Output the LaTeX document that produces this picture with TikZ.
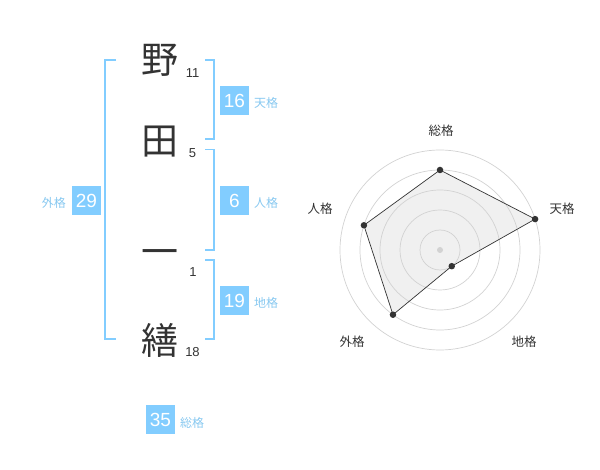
\documentclass[tikz,border=0pt]{standalone}
\usepackage{fontspec}
\setmainfont{Liberation Sans}
\newfontfamily\cjk{Noto Sans CJK JP}
\definecolor{boxblue}{RGB}{130,205,255}
\definecolor{lblblue}{RGB}{135,200,240}
\definecolor{ink}{RGB}{51,51,51}
\definecolor{ringgray}{RGB}{210,210,210}
\begin{document}
\begin{tikzpicture}[x=1pt,y=-1pt,
  kanji/.style={font=\cjk\fontsize{37}{37}\selectfont, text=ink, inner sep=0pt},
  strokes/.style={font=\fontsize{13}{13}\selectfont, text=ink, inner sep=0pt},
  numbox/.style={fill=boxblue, text=white, minimum width=29pt, minimum height=29pt, inner sep=0pt, font=\fontsize{19}{19}\selectfont},
  kaku/.style={font=\cjk\fontsize{12}{12}\selectfont, text=lblblue, inner sep=0pt},
  bracket/.style={draw=boxblue, line width=1.6pt},
  ring/.style={draw=ringgray, line width=0.7pt},
  axislbl/.style={font=\cjk\fontsize{12.5}{12.5}\selectfont, text=ink, inner sep=0pt},
  dot/.style={circle, fill=ink, inner sep=0pt, minimum size=6.5pt}]
\useasboundingbox (0,0) rectangle (600,470);
% characters
\node[kanji] (c1) at (160,60) {野};
\node[kanji] (c2) at (160,142) {田};
\node[kanji] (c3) at (160,258) {一};
\node[kanji] (c4) at (160,340) {繕};
\node[strokes] (s1) at (192.5,73) {11};
\node[strokes] (s2) at (192.5,153) {5};
\node[strokes] (s3) at (193,272.5) {1};
\node[strokes] (s4) at (192.5,352.5) {18};
% brackets
\draw[bracket] (116,60) -- (105,60) -- (105,339) -- (116,339);
\draw[bracket] (205,60) -- (214,60) -- (214,139) -- (205,139);
\draw[bracket] (205,149.5) -- (214,149.5) -- (214,250) -- (205,250);
\draw[bracket] (205,260) -- (214,260) -- (214,339) -- (205,339);
% boxes
\node[numbox] (ten) at (234.5,100.5) {16};
\node[kaku, anchor=west] (tenl) at (254,103) {天格};
\node[numbox] (jin) at (234.5,200.5) {6};
\node[kaku, anchor=west] (jinl) at (254,203) {人格};
\node[numbox] (chi) at (234.5,300.5) {19};
\node[kaku, anchor=west] (chil) at (254,303) {地格};
\node[numbox] (gai) at (86.5,200.5) {29};
\node[kaku, anchor=east] (gail) at (66,203) {外格};
\node[numbox] (sou) at (160.5,419.5) {35};
\node[kaku, anchor=west] (soul) at (180,422.5) {総格};
% radar
\coordinate (O) at (440,250);
\path (O) ++(0,-80) coordinate (pSou)
      (O) ++(-18:100) coordinate (pTen)
      (O) ++(54:20) coordinate (pChi)
      (O) ++(126:80) coordinate (pGai)
      (O) ++(198:80) coordinate (pJin);
\fill[black!6] (pSou) -- (pTen) -- (pChi) -- (pGai) -- (pJin) -- cycle;
\foreach \r in {20,40,60,80,100} \draw[ring] (O) circle[radius=\r];
\draw[ink, line width=0.7pt] (pSou) -- (pTen) -- (pChi) -- (pGai) -- (pJin) -- cycle;
\node[circle, fill=ringgray, inner sep=0pt, minimum size=6pt] (ctr) at (O) {};
\foreach \p in {pSou,pTen,pChi,pGai,pJin} \node[dot] at (\p) {};
\node[axislbl] (aS) at (441,131) {総格};
\node[axislbl] (aT) at (562,209) {天格};
\node[axislbl] (aJ) at (320,209) {人格};
\node[axislbl] (aG) at (352,342) {外格};
\node[axislbl] (aC) at (524,342) {地格};
\end{tikzpicture}
\end{document}
